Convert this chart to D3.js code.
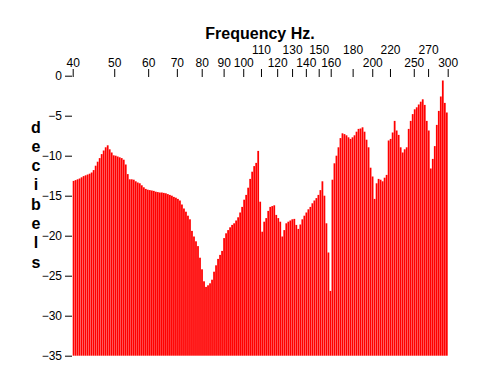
<!DOCTYPE html>
<html><head><meta charset="utf-8">
<script src="https://cdn.jsdelivr.net/npm/d3@7/dist/d3.min.js"></script>
<style>body{margin:0;background:#fff}svg{display:block}text{font-family:"Liberation Sans",Arial,sans-serif}</style>
</head><body>
<script>
const freqTicks = [40,50,60,70,80,90,100,110,120,130,140,150,160,180,200,220,250,270,300];
const upperTicks = [110,130,150,180,220,270];
const dbTicks = [0,-5,-10,-15,-20,-25,-30,-35];
const title = "Frequency Hz.";
const yLabel = "decibels";
const levels = [
-13.15,-13.05,-12.95,-12.85,-12.7,-12.55,-12.45,-12.35,-12.25,-12.1,
-11.8,-11.25,-10.75,-10.3,-9.8,-9.35,-8.95,-8.7,-9.2,-9.6,
-9.95,-10.0,-10.1,-10.2,-10.3,-10.5,-11.1,-12.3,-12.95,-12.95,
-13.0,-13.2,-13.35,-13.45,-13.7,-13.95,-14.15,-14.25,-14.3,-14.35,
-14.4,-14.5,-14.55,-14.6,-14.6,-14.65,-14.7,-14.8,-14.9,-15.0,
-15.15,-15.25,-15.4,-15.6,-16.1,-16.6,-17.0,-17.5,-17.95,-19.4,
-20.1,-20.7,-21.3,-22.75,-24.2,-25.7,-26.4,-26.2,-25.95,-25.5,
-24.5,-23.7,-22.9,-22.4,-21.9,-20.3,-19.7,-19.3,-18.95,-18.65,
-18.45,-18.1,-17.7,-17.1,-16.4,-15.5,-14.9,-14.0,-12.9,-12.0,
-11.3,-10.9,-9.4,-15.75,-19.5,-18.25,-17.8,-16.9,-16.4,-16.3,
-16.2,-17.4,-17.8,-18.25,-20.1,-19.3,-18.45,-18.25,-18.1,-17.95,
-17.9,-18.65,-19.15,-18.6,-17.95,-17.5,-17.1,-16.7,-16.4,-15.95,
-15.6,-15.3,-14.9,-14.3,-13.2,-15.0,-18.45,-22.1,-26.9,-13.0,
-10.95,-10.0,-8.95,-7.8,-7.2,-7.3,-7.45,-7.7,-7.9,-7.7,
-7.45,-7.0,-6.65,-6.6,-6.45,-7.0,-8.0,-8.95,-11.5,-12.6,
-15.4,-13.45,-12.9,-13.0,-13.2,-12.75,-12.4,-8.1,-7.9,-7.1,
-5.65,-6.85,-7.4,-8.95,-9.6,-9.2,-8.95,-6.65,-5.65,-4.8,
-4.2,-3.95,-3.6,-3.25,-2.95,-3.65,-5.65,-6.85,-11.6,-10.4,
-8.8,-6.15,-4.4,-2.6,-0.6,-3.4,-4.6
];

const W = 491, H = 386;
const mLeft = 72.7, mRight = 447.7, mTop = 75.7, mBottom = 355.7;
const svg = d3.select("body").append("svg").attr("width", W).attr("height", H);

const x = d3.scaleLog().domain([40, 300]).range([mLeft, mRight]);
const xb = d3.scaleBand().domain(d3.range(levels.length)).range([mLeft, mRight]).paddingInner(0.12).paddingOuter(0);
const y = d3.scaleLinear().domain([0, -35]).range([mTop, mBottom]);

svg.append("g").selectAll("rect").data(levels).join("rect")
  .attr("x", (d, i) => xb(i))
  .attr("width", xb.bandwidth())
  .attr("y", d => y(d))
  .attr("height", d => y(-35) - y(d))
  .attr("fill", "#ff0000");

const xa = svg.append("g").attr("transform", `translate(0,${mTop + 1.3})`)
  .call(d3.axisTop(x).tickValues(freqTicks).tickFormat(d3.format("d")).tickSize(8).tickPadding(2));
xa.select(".domain").remove();
xa.selectAll("line").attr("stroke", "#000");
xa.selectAll("text").attr("font-size", 12).attr("fill", "#000")
  .attr("dy", d => upperTicks.includes(d) ? "-1.1em" : "0em");

const ya = svg.append("g").attr("transform", `translate(${mLeft - 0.7},0)`)
  .call(d3.axisLeft(y).tickValues(dbTicks).tickFormat(d3.format("d")).tickSize(7).tickPadding(3));
ya.select(".domain").remove();
ya.selectAll("line").attr("stroke", "#000");
ya.selectAll("text").attr("font-size", 12).attr("fill", "#000");

svg.append("text").attr("x", 260).attr("y", 39).attr("text-anchor", "middle")
  .attr("font-size", 16).attr("font-weight", "bold").text(title);

svg.append("g").selectAll("text").data(yLabel.split("")).join("text")
  .attr("x", 36).attr("y", (d, i) => 132.5 + i * 19.3)
  .attr("text-anchor", "middle").attr("font-size", 16).attr("font-weight", "bold")
  .text(d => d);
</script>
</body></html>
